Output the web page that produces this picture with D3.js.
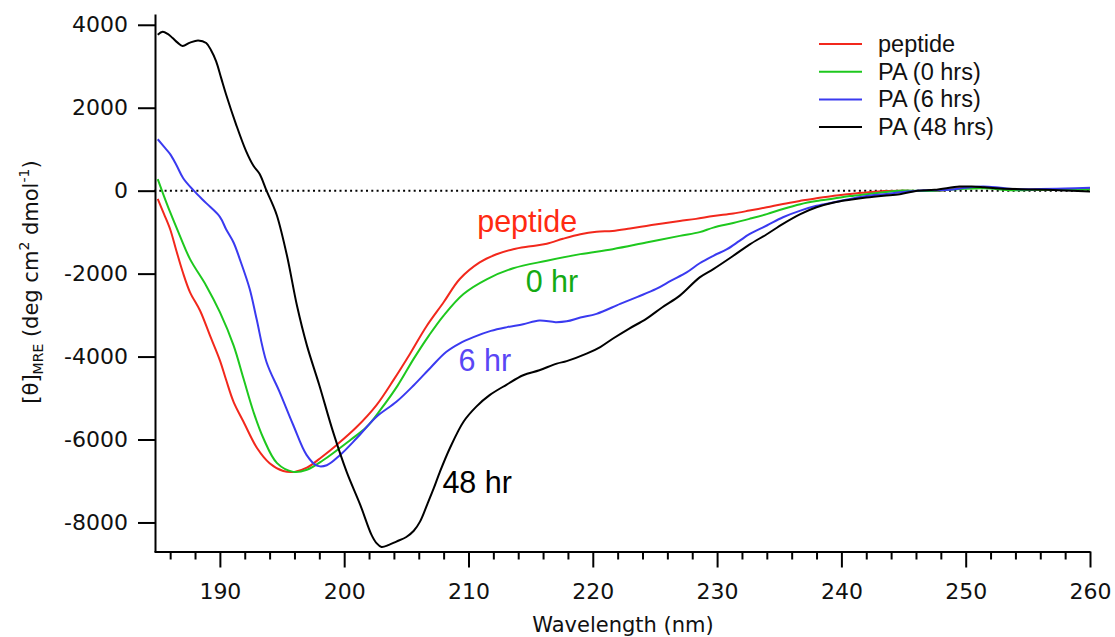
<!DOCTYPE html>
<html>
<head>
<meta charset="utf-8">
<script src="https://cdn.jsdelivr.net/npm/d3@7"></script>
<style>
  body { margin: 0; background: #fff; }
  svg { display: block; }
</style>
</head>
<body>
<script>
const width = 1115;
const height = 637;

// data: [wavelength nm, [θ]MRE]
const peptide = [
  [185.0,-200],[185.5,-560],[186.0,-930],[186.5,-1450],[187.0,-1950],[187.6,-2450],[188.4,-2890],
  [189.2,-3490],[190.0,-4090],[190.5,-4560],[191.1,-5090],[191.9,-5570],[193.0,-6210],[194.0,-6570],
  [195.1,-6760],[196.0,-6780],[197.0,-6680],[198.2,-6420],[199.4,-6130],[201.0,-5700],[202.6,-5170],
  [204.0,-4550],[205.3,-3930],[206.6,-3280],[208.0,-2690],[209.3,-2130],[210.9,-1730],[212.2,-1540],
  [213.6,-1410],[215.0,-1340],[216.3,-1280],[217.6,-1160],[219.0,-1050],[220.3,-990],[221.6,-970],
  [223.0,-910],[224.3,-850],[225.6,-790],[227.0,-730],[228.3,-680],[229.7,-610],[231.3,-550],
  [232.6,-480],[234.0,-400],[235.3,-320],[236.7,-245],[238.0,-180],[239.4,-125],[240.7,-80],
  [242.0,-45],[243.4,-10],[245.0,0],[247.0,-10],[248.0,5],[249.5,60],[251.4,80],[253.8,20],
  [256.0,30],[258.0,30],[260.0,45]
];
const pa0 = [
  [185.0,280],[185.5,-130],[186.0,-520],[186.8,-1100],[187.6,-1650],[188.9,-2290],[190.0,-2930],
  [191.1,-3730],[191.9,-4530],[192.7,-5330],[193.5,-5970],[194.6,-6570],[195.9,-6780],[197.0,-6730],
  [198.3,-6500],[200.5,-6010],[201.8,-5700],[203.0,-5250],[204.3,-4700],[205.6,-4050],[206.8,-3500],
  [208.0,-3010],[209.6,-2490],[211.5,-2130],[213.6,-1870],[216.3,-1690],[219.0,-1530],[221.6,-1410],
  [224.3,-1250],[227.0,-1090],[228.6,-1000],[229.7,-890],[231.3,-780],[232.6,-680],[234.0,-565],
  [235.3,-440],[236.7,-325],[238.0,-250],[239.4,-190],[240.7,-130],[242.0,-85],[243.4,-40],
  [244.7,0],[247.0,-10],[249.5,40],[251.4,60],[253.8,10],[256.0,20],[260.0,30]
];
const pa6 = [
  [185.0,1240],[185.5,1060],[186.0,880],[186.5,620],[187.05,300],[187.9,0],[188.9,-300],
  [190.0,-630],[190.5,-930],[191.1,-1250],[191.6,-1650],[192.4,-2370],[192.95,-3090],[193.75,-4130],
  [194.8,-4850],[195.9,-5650],[196.97,-6370],[197.8,-6630],[198.6,-6620],[199.65,-6380],[201.0,-5970],
  [202.6,-5450],[204.2,-5090],[205.6,-4690],[207.0,-4250],[208.2,-3890],[209.3,-3680],[210.4,-3530],
  [211.8,-3380],[213.1,-3290],[214.4,-3220],[215.7,-3130],[217.0,-3170],[217.9,-3150],[219.0,-3060],
  [220.3,-2970],[222.2,-2730],[223.6,-2560],[225.1,-2370],[226.3,-2170],[227.55,-1970],[228.6,-1750],
  [229.7,-1570],[230.8,-1410],[231.8,-1210],[232.6,-1050],[234.0,-840],[235.3,-640],[236.7,-480],
  [238.0,-365],[239.4,-280],[240.7,-200],[242.0,-130],[243.4,-85],[244.7,-40],[246.1,0],[247.5,10],
  [248.7,20],[250.0,70],[251.4,100],[252.8,70],[254.1,35],[256.0,40],[258.0,50],[260.0,70]
];
const pa48 = [
  [185.0,3760],[185.4,3830],[185.8,3780],[186.2,3680],[186.6,3570],[187.0,3490],[187.6,3570],
  [188.25,3620],[188.9,3560],[189.3,3380],[189.7,3120],[190.1,2720],[190.5,2320],[191.3,1600],
  [192.1,960],[192.7,600],[193.2,400],[193.75,0],[194.2,-300],[194.6,-610],[195.4,-1570],[196.2,-2770],
  [197.0,-3730],[198.0,-4690],[199.1,-5810],[200.2,-6780],[201.3,-7580],[202.2,-8300],[202.6,-8500],
  [203.0,-8590],[203.6,-8540],[204.2,-8460],[205.0,-8350],[205.6,-8200],[206.1,-7980],[206.7,-7550],
  [207.2,-7180],[207.7,-6780],[208.5,-6210],[209.6,-5570],[210.65,-5200],[211.7,-4930],[213.05,-4680],
  [214.4,-4450],[215.7,-4330],[217.1,-4170],[217.9,-4110],[219.5,-3930],[220.6,-3770],[221.6,-3570],
  [222.9,-3330],[224.3,-3090],[225.6,-2810],[227.0,-2530],[228.6,-2090],[229.7,-1890],[231.3,-1570],
  [232.6,-1300],[234.0,-1050],[235.3,-800],[236.7,-565],[238.0,-400],[239.4,-285],[240.7,-220],
  [242.0,-165],[243.4,-120],[244.7,-85],[246.1,0],[247.5,20],[249.5,100],[250.5,100],[251.5,80],
  [252.8,50],[255.5,30],[257.5,10],[260.0,-20]
];

const seriesNames = ["peptide", "PA (0 hrs)", "PA (6 hrs)", "PA (48 hrs)"];
const seriesData = [peptide, pa0, pa6, pa48];
const lineColors = ["#f2281c", "#1ec81e", "#3a3af0", "#000000"];

// in-plot labels
const noteTexts = ["peptide", "0 hr", "6 hr", "48 hr"];
const noteColors = ["#ff2a12", "#14aa14", "#5a46f5", "#000000"];
const notePos = [[210.7, -1000], [214.6, -2440], [209.2, -4340], [207.9, -7290]]; // [nm, value] at text baseline start

const yTicks = [4000, 2000, 0, -2000, -4000, -6000, -8000];
const xMajor = d3.range(190, 261, 10);
const xMinor = d3.range(186, 261, 2).filter(d => d % 10 !== 0);

const svg = d3.select("body").append("svg")
  .attr("width", width)
  .attr("height", height);

const x = d3.scaleLinear().domain([184.7, 260]).range([154, 1090]);
const y = d3.scaleLinear().domain([-8700, 4260]).range([551.5, 14]);

const axisFont = "'DejaVu Sans', Verdana, sans-serif";
const helv = "'Liberation Sans', Arial, Helvetica, sans-serif";

// zero line (dotted)
svg.append("line")
  .attr("x1", x(184.7)).attr("x2", x(260))
  .attr("y1", y(0)).attr("y2", y(0))
  .attr("stroke", "#000")
  .attr("stroke-width", 2)
  .attr("stroke-dasharray", "2,3.3");

// curves
const line = d3.line()
  .x(d => x(d[0]))
  .y(d => y(d[1]))
  .curve(d3.curveCatmullRom.alpha(0.5));

svg.append("g").selectAll("path")
  .data(seriesData)
  .join("path")
  .attr("d", line)
  .attr("fill", "none")
  .attr("stroke", (d, i) => lineColors[i])
  .attr("stroke-width", 2)
  .attr("stroke-linejoin", "round");

// x axis: minor + major ticks
svg.append("g")
  .attr("transform", `translate(0,${y.range()[0]})`)
  .call(d3.axisBottom(x).tickValues(xMinor).tickSize(8).tickSizeOuter(0).tickFormat(""))
  .call(g => g.select(".domain").remove());

svg.append("g")
  .attr("transform", `translate(0,${y.range()[0]})`)
  .call(d3.axisBottom(x).tickValues(xMajor).tickSize(16).tickSizeOuter(0).tickPadding(16)
    .tickFormat(d => String(d)));

// y axis
svg.append("g")
  .attr("transform", `translate(${x.range()[0] + 1},0)`)
  .call(d3.axisLeft(y).tickValues(yTicks).tickSize(17).tickSizeOuter(0).tickPadding(10)
    .tickFormat(d => String(d)));

svg.selectAll(".domain, .tick line")
  .attr("stroke", "#000")
  .attr("stroke-width", 2);
svg.selectAll(".tick text")
  .attr("fill", "#111")
  .style("font-family", axisFont)
  .style("font-size", "22px");

// axis titles
svg.append("text")
  .attr("x", 623)
  .attr("y", 632)
  .attr("text-anchor", "middle")
  .attr("fill", "#111")
  .style("font-family", axisFont)
  .style("font-size", "21px")
  .text("Wavelength (nm)");

const yTitle = svg.append("text")
  .attr("transform", "translate(38,282) rotate(-90)")
  .attr("text-anchor", "middle")
  .attr("fill", "#111")
  .style("font-family", axisFont)
  .style("font-size", "21px");
yTitle.append("tspan").text("[θ]");
yTitle.append("tspan").attr("dy", 5).style("font-size", "14px").text("MRE");
yTitle.append("tspan").attr("dy", -5).text(" (deg cm");
yTitle.append("tspan").attr("dy", -9).style("font-size", "14px").text("2");
yTitle.append("tspan").attr("dy", 9).text(" dmol");
yTitle.append("tspan").attr("dy", -9).style("font-size", "14px").text("-1");
yTitle.append("tspan").attr("dy", 9).text(")");

// legend
const legend = svg.append("g").attr("transform", "translate(819,44)");
seriesNames.forEach((name, i) => {
  const row = legend.append("g").attr("transform", `translate(0,${i * 27.7})`);
  row.append("line")
    .attr("x1", 0).attr("x2", 43)
    .attr("stroke", lineColors[i])
    .attr("stroke-width", 2);
  row.append("text")
    .attr("x", 59)
    .attr("y", 8)
    .attr("fill", "#111")
    .style("font-family", helv)
    .style("font-size", "23.5px")
    .text(name);
});

// labels next to curves
svg.append("g").selectAll("text")
  .data(noteTexts)
  .join("text")
  .attr("x", (d, i) => x(notePos[i][0]))
  .attr("y", (d, i) => y(notePos[i][1]))
  .attr("fill", (d, i) => noteColors[i])
  .style("font-family", helv)
  .style("font-size", "30.5px")
  .text(d => d);
</script>
</body>
</html>
